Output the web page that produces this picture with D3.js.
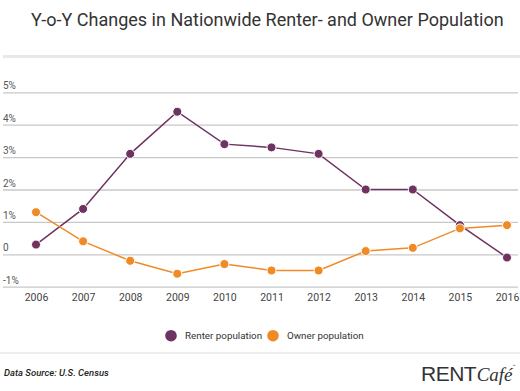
<!DOCTYPE html>
<html><head><meta charset="utf-8">
<script src="https://cdn.jsdelivr.net/npm/d3@7"></script>
<style>html,body{margin:0;padding:0;background:#fff;overflow:hidden}</style>
</head><body>
<svg id="c" width="520" height="391"></svg>
<script>
const years = ["2006","2007","2008","2009","2010","2011","2012","2013","2014","2015","2016"];
const renter = [0.3,1.4,3.1,4.4,3.4,3.3,3.1,2.0,2.0,0.9,-0.1];
const owner = [1.3,0.4,-0.2,-0.6,-0.3,-0.5,-0.5,0.1,0.2,0.8,0.9];
const yTicks = [-1,0,1,2,3,4,5];
const yTickLabels = ["-1%","0","1%","2%","3%","4%","5%"];
const seriesNames = ["Renter population","Owner population"];
const colors = ["#6e3360","#f08a24"];

const svg = d3.select("#c");
const font = "Roboto, 'Noto Sans', sans-serif";

svg.append("text").attr("x",31).attr("y",26).attr("font-family",font)
  .attr("font-size",18).attr("fill","#333")
  .text("Y-o-Y Changes in Nationwide Renter- and Owner Population");
svg.append("rect").attr("x",3).attr("y",55).attr("width",517).attr("height",3).attr("fill","#e8e8e8");

const x = d3.scalePoint().domain(years).range([36,507]);
const y = d3.scaleLinear().domain([-1,5]).range([286.7,92.3]);

const grid = svg.append("g")
  .call(d3.axisLeft(y).tickValues(yTicks).tickSize(0).tickFormat(""));
grid.select(".domain").remove();
grid.selectAll(".tick line").attr("x1",3).attr("x2",518).attr("stroke","#c8c8c8").attr("stroke-width",1.3);
svg.append("g").selectAll("text").data(yTicks).join("text")
  .attr("x",3).attr("y",d=>y(d)-3).attr("font-family",font).attr("font-size",10)
  .attr("fill","#555").text((d,i)=>yTickLabels[i]);

const xa = svg.append("g").attr("transform","translate(0,291)")
  .call(d3.axisBottom(x).tickSize(0));
xa.select(".domain").remove();
xa.selectAll("text").attr("font-family",font).attr("font-size",10.5).attr("fill","#444")
  .attr("dy","0.71em");

const series = [renter, owner];
series.forEach((vals,i)=>{
  const line = d3.line().x((d,j)=>x(years[j])).y(d=>y(d));
  svg.append("path").datum(vals).attr("d",line).attr("fill","none")
    .attr("stroke",colors[i]).attr("stroke-width",1.5);
});
series.forEach((vals,i)=>{
  svg.append("g").selectAll("circle").data(vals).join("circle")
    .attr("cx",(d,j)=>x(years[j])).attr("cy",d=>y(d)).attr("r",4.5)
    .attr("fill",colors[i]).attr("stroke","#fff").attr("stroke-width",1);
});

// legend
const lg = [{x:171,tx:185},{x:273,tx:287}];
seriesNames.forEach((n,i)=>{
  svg.append("circle").attr("cx",lg[i].x).attr("cy",335.7).attr("r",5.8).attr("fill",colors[i]);
  svg.append("text").attr("x",lg[i].tx).attr("y",339.3).attr("font-family",font)
    .attr("font-size",9.8).attr("fill","#333").text(n);
});
svg.append("rect").attr("x",0).attr("y",352).attr("width",520).attr("height",2).attr("fill","#eeeeee");

svg.append("text").attr("x",4).attr("y",376).attr("font-family",font).attr("font-size",9.5)
  .attr("font-style","italic").attr("font-weight",500).attr("fill","#222").text("Data Source: U.S. Census");

const logo = svg.append("text").attr("x",421).attr("y",381).attr("fill","#333");
logo.append("tspan").attr("font-family","'Liberation Sans Narrow','Liberation Sans',sans-serif")
  .attr("font-size",21).attr("letter-spacing",-0.5).text("RENT");
logo.append("tspan").attr("font-family","'Liberation Serif',serif").attr("font-style","italic")
  .attr("font-size",19).attr("dx",0.5).text("Café");
logo.append("tspan").attr("font-family",font).attr("font-size",5).attr("dy",-13).text("™");
</script>
</body></html>
